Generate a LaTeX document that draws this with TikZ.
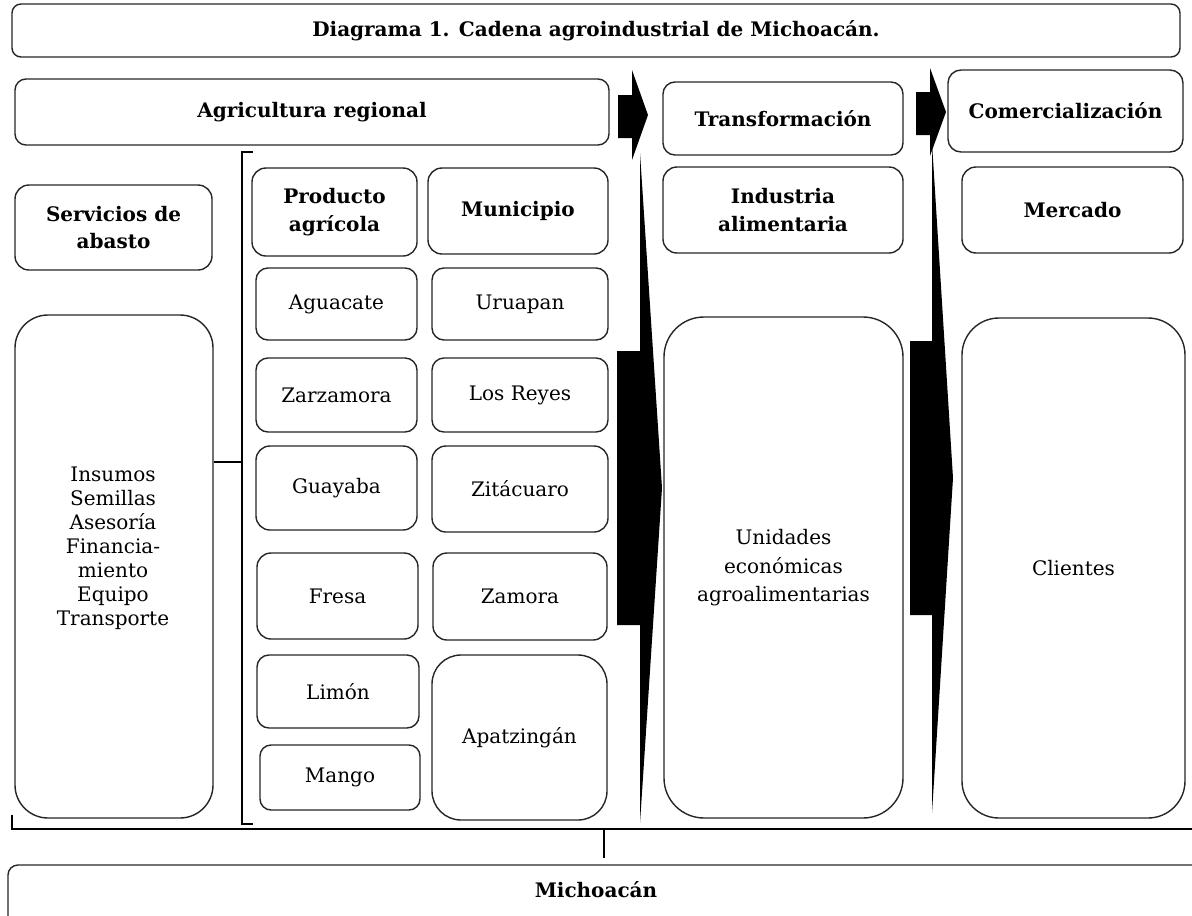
\documentclass[tikz,border=0pt]{standalone}
\usepackage{fontspec}
\setmainfont{DejaVu Serif}
\tikzset{
  box/.style={draw=black!85, line width=1.4pt, fill=white, align=center, inner sep=0pt,
    font=\fontsize{20}{24}\selectfont},
  bbox/.style={box, font=\fontsize{20}{24}\selectfont\bfseries},
  blockarrow/.style={fill=black, draw=none},
  brk/.style={line width=2.8pt, draw=black},
  plain/.style={align=center, inner sep=0pt, font=\fontsize{20}{24}\selectfont},
  bplain/.style={plain, font=\fontsize{20}{24}\selectfont\bfseries}
}
% #1 style, #2 x1, #3 y1, #4 x2, #5 y2, #6 name, #7 radius, #8 text
\newcommand\rbox[8][box]{\node[#1, rounded corners=#7pt, minimum width={(#4-#2)*1pt},
  minimum height={(#5-#3)*1pt}] (#6) at ({(#2+#4)/2},{(#3+#5)/2}) {#8};}
\begin{document}
\begin{tikzpicture}[x=1pt,y=-1pt]
\useasboundingbox (0,0) rectangle (1192,916);
\clip (0,0) rectangle (1192,916);
% header row
\rbox[bbox]{12}{4}{1180}{57}{title}{9}{Diagrama 1. Cadena agroindustrial de Michoacán.}
\rbox[bbox]{15}{79}{609}{145}{agri}{11}{Agricultura regional}
\rbox[bbox]{663}{82}{903}{155}{transf}{12}{Transformación}
\rbox[bbox]{948}{70}{1183}{152}{comerc}{13}{Comercialización}
% small arrows
\fill[blockarrow] (618,95) -- (632,95) -- (632,70) -- (648,115) -- (632,160) -- (632,138) -- (618,138) -- cycle;
\fill[blockarrow] (916,92) -- (930,92) -- (930,68) -- (946,112) -- (930,156) -- (930,135) -- (916,135) -- cycle;
% left column
\rbox[bbox]{15}{185}{212}{270}{serv}{14}{Servicios de\\[3pt]abasto}
\rbox[box]{15}{315}{213}{818}{insumos}{33}{}
\node[plain] (insumostext) at (113,548) {Insumos\\Semillas\\Asesoría\\Financia-\\miento\\Equipo\\Transporte};
% product / municipality columns
\rbox[bbox]{252}{168}{417}{256}{prod}{14}{Producto\\[4pt]agrícola}
\rbox[bbox]{428}{168}{608}{254}{muni}{14}{Municipio}
\rbox{256}{268}{417}{340}{aguacate}{12}{Aguacate}
\rbox{432}{268}{608}{340}{uruapan}{12}{Uruapan}
\rbox{256}{358}{417}{432}{zarza}{12}{Zarzamora}
\rbox{432}{358}{608}{432}{reyes}{12}{Los Reyes}
\rbox{256}{446}{417}{530}{guayaba}{14}{Guayaba}
\rbox{432}{446}{608}{532}{zitac}{14}{Zitácuaro}
\rbox{257}{553}{418}{639}{fresa}{14}{Fresa}
\rbox{433}{553}{607}{640}{zamora}{14}{Zamora}
\rbox{257}{655}{419}{728}{limon}{12}{Limón}
\rbox{260}{745}{420}{810}{mango}{11}{Mango}
\rbox{432}{655}{607}{820}{apatz}{29}{Apatzingán}
% transformation / market columns
\rbox[bbox]{663}{167}{903}{253}{indus}{14}{Industria\\[4pt]alimentaria}
\rbox[bbox]{962}{167}{1183}{253}{mercado}{14}{Mercado}
\rbox{664}{317}{903}{818}{unidades}{40}{Unidades\\[5pt]económicas\\[4pt]agroalimentarias}
\rbox{962}{318}{1185}{818}{clientes}{37}{Clientes}
% big arrows
\fill[blockarrow] (617,351) -- (640,351) -- (640,153) -- (662,488) -- (640,823) -- (640,625) -- (617,625) -- cycle;
\fill[blockarrow] (910,341) -- (932,341) -- (932,143) -- (953,478) -- (932,813) -- (932,615) -- (910,615) -- cycle;
% left bracket
\coordinate (brktop) at (253,152);
\coordinate (brkbot) at (253,824);
\coordinate (brkmid) at (242,462);
\draw[brk] (brktop) -- (242,152) -- (242,824) -- (brkbot);
\draw[brk] (insumos.east |- brkmid) -- (brkmid);
% bottom bracket
\rbox[box]{8}{865}{1205}{940}{mich}{10}{}
\node[bplain] (michtext) at (596,890) {Michoacán};
\coordinate (bl) at (12,815);
\coordinate (br) at (1195,829);
\coordinate (bm) at (604,829);
\draw[brk] (bl) -- (12,829) -- (br);
\draw[brk] (bm) -- (bm |- 0,858);
\end{tikzpicture}
\end{document}
